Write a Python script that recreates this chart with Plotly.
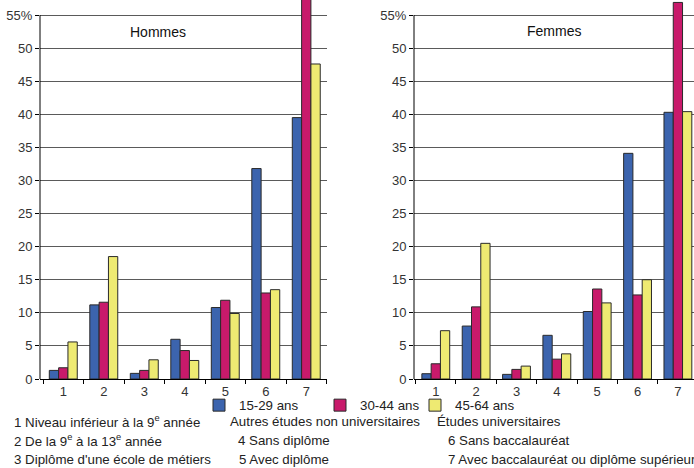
import plotly.graph_objects as go

categories = ["1", "2", "3", "4", "5", "6", "7"]
age_groups = ["15-29 ans", "30-44 ans", "45-64 ans"]
colors = ["#3C64AE", "#C81A6B", "#EEEA72"]

hommes = {
    "15-29 ans": [1.3, 11.2, 0.85, 6.0, 10.8, 31.8, 39.5],
    "30-44 ans": [1.7, 11.6, 1.3, 4.3, 11.9, 13.0, 58.5],
    "45-64 ans": [5.6, 18.5, 2.9, 2.8, 9.9, 13.5, 47.6],
}
femmes = {
    "15-29 ans": [0.8, 8.0, 0.7, 6.6, 10.2, 34.1, 40.3],
    "30-44 ans": [2.3, 10.9, 1.45, 3.0, 13.6, 12.7, 56.9],
    "45-64 ans": [7.3, 20.5, 1.95, 3.8, 11.5, 15.0, 40.4],
}

y_tickvals = [0, 5, 10, 15, 20, 25, 30, 35, 40, 45, 50, 55]
y_ticktext = ["0", "5", "10", "15", "20", "25", "30", "35", "40", "45", "50", "55%"]

footnotes = [
    ("1 Niveau inférieur à la 9<sup>e</sup> année", 12, 421.5),
    ("2 De la 9<sup>e</sup> à la 13<sup>e</sup> année", 12, 440.5),
    ("3 Diplôme d'une école de métiers", 12, 459.5),
    ("Autres études non universitaires", 228, 421.5),
    ("4 Sans diplôme", 236, 440.5),
    ("5 Avec diplôme", 237, 459.5),
    ("Études universitaires", 435, 421.5),
    ("6 Sans baccalauréat", 446, 440.5),
    ("7 Avec baccalauréat ou diplôme supérieur", 446, 459.5),
]

W, H = 694, 468
FONT = "Liberation Sans, Arial, sans-serif"

fig = go.Figure()
legend_names = ["legend", "legend2", "legend3"]
for i, g in enumerate(age_groups):
    fig.add_trace(go.Bar(
        x=categories, y=hommes[g], name=g, xaxis="x", yaxis="y",
        marker=dict(color=colors[i], line=dict(color="#2a2a2a", width=1)),
        offsetgroup=str(i), legend=legend_names[i], showlegend=True,
    ))
for i, g in enumerate(age_groups):
    fig.add_trace(go.Bar(
        x=categories, y=femmes[g], name=g, xaxis="x2", yaxis="y2",
        marker=dict(color=colors[i], line=dict(color="#2a2a2a", width=1)),
        offsetgroup=str(i), showlegend=False,
    ))

grid_col = "#5a5a5a"
yaxis_common = dict(
    range=[0, 57.27], tickvals=y_tickvals, ticktext=y_ticktext,
    showgrid=True, gridcolor=grid_col, gridwidth=1.2,
    ticks="outside", ticklen=4, tickcolor="#000", tickwidth=1,
    showline=False, zeroline=False, automargin=False,
    tickfont=dict(family=FONT, size=13, color="#333"),
    domain=[89 / H, 1],
)
xaxis_common = dict(
    type="category", tickson="boundaries", ticks="outside", ticklen=4,
    tickcolor="#000", tickwidth=1, showline=True, linecolor="#000", linewidth=1,
    showgrid=False, zeroline=False, automargin=False,
    tickfont=dict(family=FONT, size=13, color="#333"),
)

fig.update_layout(
    width=W, height=H,
    margin=dict(l=0, r=0, t=0, b=0, autoexpand=False),
    paper_bgcolor="white", plot_bgcolor="white",
    barmode="group", bargap=0.31, bargroupgap=0.0,
    font=dict(family=FONT, size=12, color="#333"),
    xaxis=dict(domain=[40 / W, 327 / W], range=[-0.575, 6.512], anchor="y", **xaxis_common),
    yaxis=dict(anchor="x", **yaxis_common),
    xaxis2=dict(domain=[414 / W, 1.0], range=[-0.54, 6.399], anchor="y2", **xaxis_common),
    yaxis2=dict(anchor="x2", **yaxis_common),
)

legend_x = [199, 320, 415]
for name, lx in zip(legend_names, legend_x):
    fig.update_layout({name: dict(
        x=lx / W, y=(H - 405.5) / H, xanchor="left", yanchor="middle",
        orientation="h", bgcolor="rgba(0,0,0,0)", borderwidth=0,
        font=dict(family=FONT, size=13.3, color="#222"),
        itemwidth=30,
    )})

# y-axis lines only up to 55
for xr, yr in [("x domain", "y"), ("x2 domain", "y2")]:
    fig.add_shape(type="line", xref=xr, yref=yr, x0=0, x1=0, y0=0, y1=55,
                  line=dict(color="#000", width=1))

fig.add_annotation(text="Hommes", x=158 / W, y=(H - 32) / H, xref="paper", yref="paper",
                   xanchor="center", yanchor="middle",
                   showarrow=False, font=dict(family=FONT, size=14, color="#111"))
fig.add_annotation(text="Femmes", x=554 / W, y=(H - 31) / H, xref="paper", yref="paper",
                   xanchor="center", yanchor="middle",
                   showarrow=False, font=dict(family=FONT, size=14, color="#111"))

for text, px, py in footnotes:
    fig.add_annotation(text=text, x=px / W, y=(H - py) / H, xref="paper", yref="paper",
                       xanchor="left", yanchor="middle", showarrow=False,
                       font=dict(family=FONT, size=13.3, color="#222"))

fig.write_html(
    "out.html",
    config={"displayModeBar": False},
    post_script="document.body.style.margin='0';document.body.style.padding='0';",
)
